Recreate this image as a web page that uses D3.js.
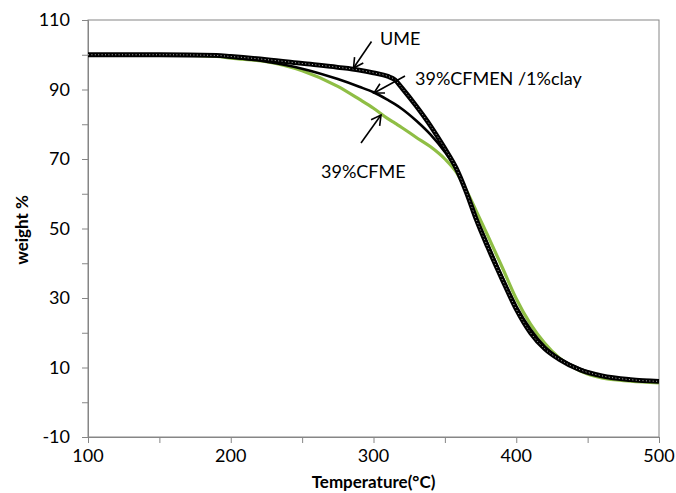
<!DOCTYPE html>
<html>
<head>
<meta charset="utf-8">
<script src="https://cdn.jsdelivr.net/npm/d3@7"></script>
<style>
  body { margin: 0; background: #fff; }
  svg { display: block; font-family: Lato, "Open Sans", sans-serif; }
</style>
</head>
<body>
<div id="chart"></div>
<script>
'use strict';

// temperature grid (°C)
const temps = [100, 150, 190, 200, 225, 250, 275, 290, 300, 310, 315, 320, 330, 340, 350, 358, 365, 372, 380, 390, 400, 410, 420, 430, 445, 460, 480, 500];

// weight % for each sample
const ume   = [100, 100, 99.8, 99.5, 98.6, 97.5, 96.4, 95.6, 94.8, 93.8, 92.8, 90.4, 85.2, 79.5, 73.0, 67.3, 60.5, 52.6, 44.7, 35.5, 26.8, 20.0, 15.4, 12.4, 9.3, 7.6, 6.5, 6.0];
const cfmen = [100, 100, 99.6, 99.2, 98.0, 96.0, 93.0, 90.8, 89.2, 87.0, 85.8, 84.4, 81.0, 77.0, 72.0, 67.0, 60.4, 53.0, 45.6, 36.3, 27.7, 21.0, 16.0, 12.7, 9.6, 7.6, 6.6, 6.1];
const cfme  = [100, 100, 99.5, 99.0, 98.0, 95.4, 90.9, 87.2, 84.6, 81.6, 80.3, 79.0, 76.2, 73.5, 70.0, 66.2, 61.0, 55.0, 48.0, 39.0, 29.8, 22.5, 17.0, 12.8, 9.0, 7.0, 6.1, 5.6];

const xTicks = [100, 200, 300, 400, 500];
const xMinor = [100, 150, 200, 250, 300, 350, 400, 450, 500];
const yTicks = [-10, 10, 30, 50, 70, 90, 110];
const yMinor = d3.range(-10, 111, 10);

const width = 676, height = 493;

const svg = d3.select("#chart")
  .append("svg")
  .attr("width", width)
  .attr("height", height);

const x = d3.scaleLinear().domain([100, 500]).range([88, 659]);
const y = d3.scaleLinear().domain([-10, 110]).range([437, 20]);

const grey = "#868686";

// plot frame
svg.append("rect")
  .attr("x", x(100))
  .attr("y", y(110))
  .attr("width", x(500) - x(100))
  .attr("height", y(-10) - y(110))
  .attr("fill", "none")
  .attr("stroke", grey)
  .attr("stroke-width", 1);

// axes
const xAxis = svg.append("g")
  .attr("transform", `translate(0,${y(-10)})`)
  .call(d3.axisBottom(x).tickValues(xMinor).tickSize(6).tickFormat(""));
const yAxis = svg.append("g")
  .attr("transform", `translate(${x(100)},0)`)
  .call(d3.axisLeft(y).tickValues(yMinor).tickSize(6).tickFormat(""));

[xAxis, yAxis].forEach(function(a) {
  a.selectAll("path, line").attr("stroke", grey);
});

svg.append("g").selectAll("text")
  .data(xTicks)
  .enter().append("text")
  .attr("x", d => x(d))
  .attr("y", 462)
  .attr("text-anchor", "middle")
  .attr("font-size", 18)
  .text(d => d);

svg.append("g").selectAll("text")
  .data(yTicks)
  .enter().append("text")
  .attr("x", 70)
  .attr("y", d => y(d))
  .attr("dy", "0.36em")
  .attr("text-anchor", "end")
  .attr("font-size", 18)
  .text(d => d);

// axis titles
svg.append("text")
  .attr("x", (x(100) + x(500)) / 2)
  .attr("y", 488)
  .attr("text-anchor", "middle")
  .attr("font-size", 17)
  .attr("font-weight", "bold")
  .text("Temperature(°C)");

svg.append("text")
  .attr("transform", "translate(28,230) rotate(-90)")
  .attr("text-anchor", "middle")
  .attr("font-size", 17)
  .attr("font-weight", "bold")
  .text("weight %");

// curves
const line = d3.line()
  .x((d, i) => x(temps[i]))
  .y(d => y(d))
  .curve(d3.curveMonotoneX);

svg.append("path")
  .attr("d", line(cfme))
  .attr("fill", "none")
  .attr("stroke", "#8fbe45")
  .attr("stroke-width", 3.2);

svg.append("path")
  .attr("d", line(cfmen))
  .attr("fill", "none")
  .attr("stroke", "#000")
  .attr("stroke-width", 2.6);

svg.append("path")
  .attr("d", line(ume))
  .attr("fill", "none")
  .attr("stroke", "#000")
  .attr("stroke-width", 4.8);

// marker texture on the UME line
svg.append("path")
  .attr("d", line(ume))
  .attr("fill", "none")
  .attr("stroke", "#fff")
  .attr("stroke-width", 1)
  .attr("stroke-dasharray", "1 2.4")
  .attr("opacity", 0.7);

// annotations
const notes = [
  { label: "UME", tx: 380, ty: 45, from: [371.5, 41.5], to: [353.5, 68] },
  { label: "39%CFMEN /1%clay", tx: 415, ty: 85, from: [405, 76], to: [374, 93] },
  { label: "39%CFME", tx: 321, ty: 178, from: [361, 143], to: [381, 115] }
];

notes.forEach(function(n) {
  svg.append("text")
    .attr("x", n.tx)
    .attr("y", n.ty)
    .attr("font-size", 18)
    .text(n.label);

  svg.append("line")
    .attr("x1", n.from[0]).attr("y1", n.from[1])
    .attr("x2", n.to[0]).attr("y2", n.to[1])
    .attr("stroke", "#000")
    .attr("stroke-width", 1.6);

  // open arrow head
  const ang = Math.atan2(n.to[1] - n.from[1], n.to[0] - n.from[0]);
  const len = 11, spread = 0.5;
  const head = [ang + Math.PI - spread, ang + Math.PI + spread].map(a =>
    [n.to[0] + len * Math.cos(a), n.to[1] + len * Math.sin(a)]);
  svg.append("path")
    .attr("d", `M${head[0]}L${n.to}L${head[1]}`)
    .attr("fill", "none")
    .attr("stroke", "#000")
    .attr("stroke-width", 1.6);
});
</script>
</body>
</html>
